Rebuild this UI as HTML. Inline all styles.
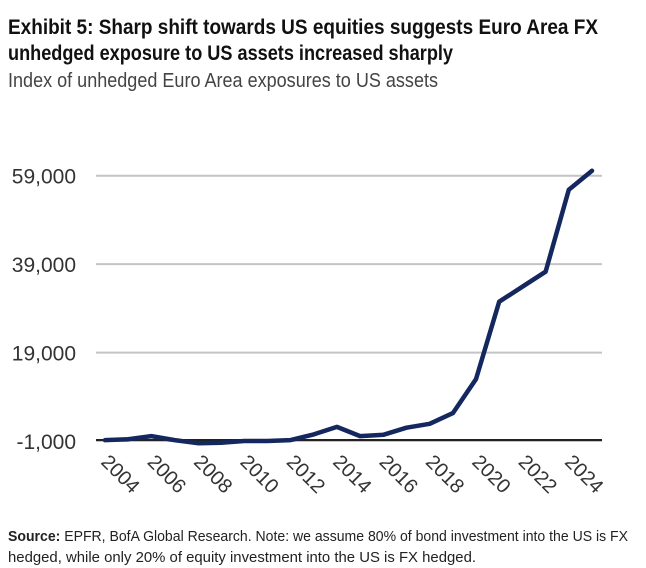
<!DOCTYPE html>
<html><head><meta charset="utf-8"><style>
html,body{margin:0;padding:0;background:#fff;}
svg{display:block;}
text{font-family:"Liberation Sans Narrow","Liberation Sans",sans-serif;}
</style></head><body>
<svg id="chart" width="646" height="568" viewBox="0 0 646 568">
<text x="8" y="34" font-size="21" font-weight="bold" fill="#111" textLength="590" lengthAdjust="spacingAndGlyphs">Exhibit 5: Sharp shift towards US equities suggests Euro Area FX</text>
<text x="8" y="60" font-size="21" font-weight="bold" fill="#111" textLength="445" lengthAdjust="spacingAndGlyphs">unhedged exposure to US assets increased sharply</text>
<text x="8" y="87" font-size="20" fill="#444" textLength="430" lengthAdjust="spacingAndGlyphs">Index of unhedged Euro Area exposures to US assets</text>
<g id="grid"></g><g id="ylabels"></g><g id="xlabels"></g><g id="series"></g>
<text x="8" y="541" font-size="15" fill="#222" textLength="620" lengthAdjust="spacingAndGlyphs"><tspan font-weight="bold">Source:</tspan> EPFR, BofA Global Research. Note: we assume 80% of bond investment into the US is FX</text>
<text x="8" y="562" font-size="15" fill="#222" textLength="468" lengthAdjust="spacingAndGlyphs">hedged, while only 20% of equity investment into the US is FX hedged.</text>
</svg>
<script>
const years = [2004,2005,2006,2007,2008,2009,2010,2011,2012,2013,2014,2015,2016,2017,2018,2019,2020,2021,2022,2023,2024,2025];
const values = [-800,-600,100,-800,-1500,-1400,-1000,-1000,-800,500,2200,100,400,2000,2900,5300,13000,30500,33900,37300,55800,60100];
const yTicks = [-1000,19000,39000,59000];
const yTickLabels = ["-1,000","19,000","39,000","59,000"];
const xTickYears = [2004,2006,2008,2010,2012,2014,2016,2018,2020,2022,2024];

const NS="http://www.w3.org/2000/svg";
function xScale(yr){return 105+(yr-2004)*(592-105)/21;}
function yScale(v){return 441-(v+1000)*(441-175.7)/60000;}
function mk(tag,attrs,parent){const e=document.createElementNS(NS,tag);for(const k in attrs)e.setAttribute(k,attrs[k]);document.getElementById(parent).appendChild(e);return e;}

yTicks.forEach((t,i)=>{
  const y=yScale(t);
  const g=mk('line',{x1:96,x2:602,y1:y,y2:y,stroke:'#c4c4c4','stroke-width':2},'grid');
  
  
  const l=mk('text',{x:76,y:y+8,'font-size':21,'text-anchor':'end',fill:'#333'},'ylabels');
  l.textContent=yTickLabels[i];
  
  
});
const base=mk('line',{x1:96,x2:602,y1:yScale(-1000)-1,y2:yScale(-1000)-1,stroke:'#222','stroke-width':2},'grid');



xTickYears.forEach(yr=>{
  const x=xScale(yr)-5, y=463;
  const t=mk('text',{x:x,y:y,'font-size':20,fill:'#333',transform:`rotate(45 ${x} ${y})`},'xlabels');
  t.textContent=String(yr);
  
  
});

const pts=years.map((yr,i)=>xScale(yr).toFixed(1)+','+yScale(values[i]).toFixed(1)).join(' ');
const line=mk('polyline',{points:pts,fill:'none',stroke:'#14275f','stroke-width':4.5,'stroke-linejoin':'round','stroke-linecap':'round'},'series');


</script>
</body></html>
